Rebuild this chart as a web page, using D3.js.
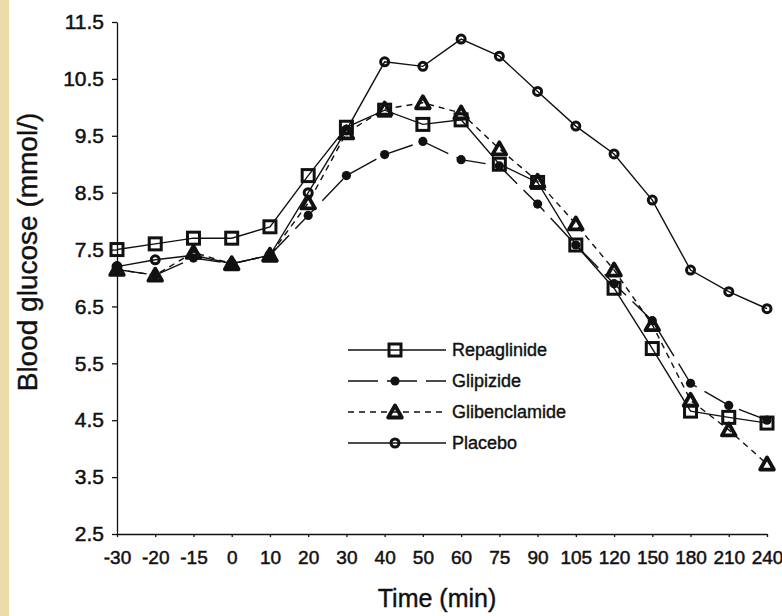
<!DOCTYPE html>
<html>
<head>
<meta charset="utf-8">
<script src="https://cdn.jsdelivr.net/npm/d3@7"></script>
<style>
  html, body { margin: 0; padding: 0; background: #fff; }
  svg { display: block; font-family: "Liberation Sans", Arial, sans-serif; }
  .axis path, .axis line { stroke: #111; stroke-width: 1.3; }
  .axis text { fill: #111; stroke: #111; stroke-width: 0.5; }
  .ytick text { font-size: 21px; }
  .xtick text { font-size: 19px; }
</style>
</head>
<body>
<div id="chart"></div>
<script>
// Blood glucose profiles
const times = ['-30', '-20', '-15', '0', '10', '20', '30', '40', '50', '60', '75', '90', '105', '120', '150', '180', '210', '240'];
const yTicks = [2.5, 3.5, 4.5, 5.5, 6.5, 7.5, 8.5, 9.5, 10.5, 11.5];

const repaglinide   = [7.5, 7.6, 7.7, 7.7, 7.9, 8.8, 9.65, 9.95, 9.7, 9.78, 9.0, 8.68, 7.58, 6.82, 5.76, 4.66, 4.55, 4.45];
const glipizide     = [7.15, 7.05, 7.35, 7.25, 7.4, 8.1, 8.8, 9.17, 9.4, 9.08, 8.97, 8.3, 7.58, 6.9, 6.25, 5.15, 4.76, 4.5];
const glibenclamide = [7.15, 7.05, 7.45, 7.25, 7.4, 8.32, 9.55, 9.97, 10.08, 9.9, 9.27, 8.7, 7.95, 7.14, 6.18, 4.85, 4.33, 3.73];
const placebo       = [7.2, 7.32, 7.4, 7.25, 7.4, 8.5, 9.6, 10.8, 10.72, 11.2, 10.9, 10.28, 9.67, 9.18, 8.37, 7.14, 6.76, 6.46];

const seriesNames = ['Repaglinide', 'Glipizide', 'Glibenclamide', 'Placebo'];

const width = 782, height = 616;

const svg = d3.select('#chart').append('svg')
  .attr('width', width)
  .attr('height', height);

// scanned page edge on the left
svg.append('rect')
  .attr('x', 0).attr('y', 0)
  .attr('width', 9).attr('height', height)
  .attr('fill', '#ecdcaa');

const x = d3.scalePoint().domain(times).range([117, 767]).padding(0);
const y = d3.scaleLinear().domain([2.5, 11.5]).range([534, 22]);

// axes
svg.append('g')
  .attr('class', 'axis ytick')
  .attr('transform', 'translate(117,0)')
  .call(d3.axisLeft(y).tickValues(yTicks).tickFormat(d3.format('.1f')).tickSize(5).tickSizeOuter(0).tickPadding(8));

svg.append('g')
  .attr('class', 'axis xtick')
  .attr('transform', 'translate(0,534)')
  .call(d3.axisBottom(x).tickSize(3).tickSizeOuter(0).tickPadding(14));

svg.selectAll('.axis .domain').attr('stroke-width', 1.3);

svg.append('text')
  .attr('x', 437)
  .attr('y', 607)
  .attr('text-anchor', 'middle')
  .attr('font-size', 25)
  .attr('fill', '#111')
  .attr('stroke', '#111').attr('stroke-width', 0.4)
  .text('Time (min)');

svg.append('text')
  .attr('transform', 'translate(37,252) rotate(-90)')
  .attr('text-anchor', 'middle')
  .attr('font-size', 28)
  .attr('fill', '#111')
  .attr('stroke', '#111').attr('stroke-width', 0.4)
  .text('Blood glucose (mmol/)');

// marker + line styles per series
const styles = {
  Repaglinide:   { dash: null,   marker: 'square' },
  Glipizide:     { dash: '30,9', marker: 'dot' },
  Glibenclamide: { dash: '6,5',  marker: 'triangle' },
  Placebo:       { dash: null,   marker: 'circle' }
};
const dataBy = {
  Repaglinide: repaglinide,
  Glipizide: glipizide,
  Glibenclamide: glibenclamide,
  Placebo: placebo
};

function drawMarker(sel, type) {
  if (type === 'square') {
    sel.append('rect')
      .attr('x', -6).attr('y', -6).attr('width', 12).attr('height', 12)
      .attr('fill', 'none').attr('stroke', '#111').attr('stroke-width', 3);
  } else if (type === 'dot') {
    sel.append('circle').attr('r', 4.6).attr('fill', '#111');
  } else if (type === 'triangle') {
    sel.append('path')
      .attr('d', 'M0,-6.5 L6.8,5.5 L-6.8,5.5 Z')
      .attr('fill', 'none').attr('stroke', '#111').attr('stroke-width', 3.8)
      .attr('stroke-linejoin', 'round');
  } else {
    sel.append('circle').attr('r', 4)
      .attr('fill', 'none').attr('stroke', '#111').attr('stroke-width', 3);
  }
}

const line = d3.line()
  .x((d, i) => x(times[i]))
  .y(d => y(d));

const plot = svg.append('g');

seriesNames.forEach(name => {
  plot.append('path')
    .datum(dataBy[name])
    .attr('d', line)
    .attr('fill', 'none')
    .attr('stroke', '#111')
    .attr('stroke-width', 1.4)
    .attr('stroke-dasharray', styles[name].dash);
});

seriesNames.forEach(name => {
  const g = plot.append('g');
  dataBy[name].forEach((v, i) => {
    const m = g.append('g').attr('transform', `translate(${x(times[i])},${y(v)})`);
    drawMarker(m, styles[name].marker);
  });
});

// legend
const legend = svg.append('g').attr('transform', 'translate(348,350)');
seriesNames.forEach((name, i) => {
  const row = legend.append('g').attr('transform', `translate(0,${i * 31})`);
  row.append('line')
    .attr('x1', 0).attr('x2', 98)
    .attr('stroke', '#111').attr('stroke-width', 1.4)
    .attr('stroke-dasharray', styles[name].dash);
  drawMarker(row.append('g').attr('transform', 'translate(47,0)'), styles[name].marker);
  row.append('text')
    .attr('x', 104)
    .attr('y', 6)
    .attr('font-size', 18)
    .attr('fill', '#111')
    .attr('stroke', '#111').attr('stroke-width', 0.4)
    .text(name);
});
</script>
</body>
</html>
